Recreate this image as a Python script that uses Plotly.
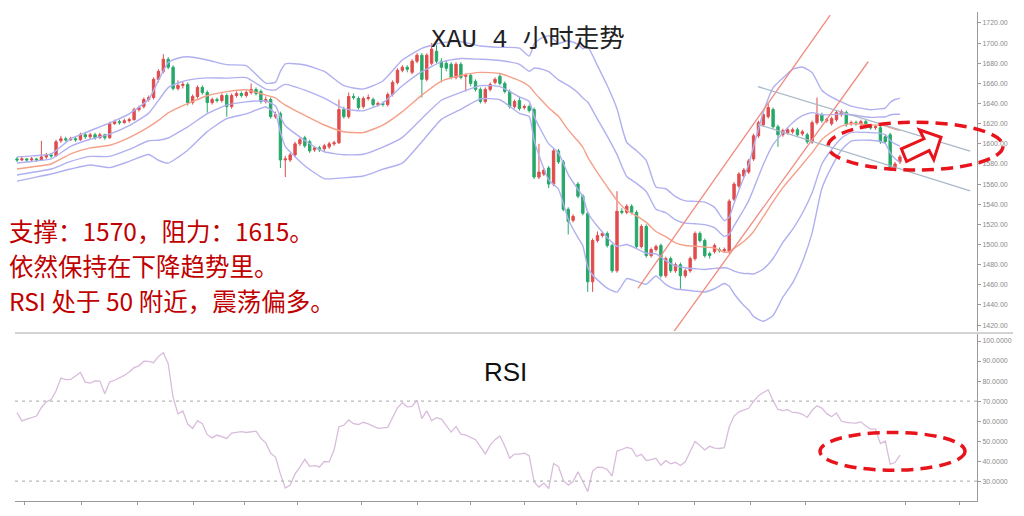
import plotly.graph_objects as go

# ---------------- data ----------------
opens = [1585,1584,1585,1584,1585,1584,1587,1589,1588,1603,1605,1604,1605,1604,1609,1607,1609,1606,1609,1606,
         1620,1622,1621,1623,1624,1634,1637,1644,1646,1664,1672,1684,1676,1655,1658,1659,1641,1647,1656,1651,
         1641,1644,1643,1648,1637,1648,1650,1648,1651,1654,1652,1642,1644,1627,1630,1584,1584,1589,1600,1606,
         1602,1594,1596,1595,1597,1600,1601,1634,1627,1647,1645,1637,1645,1644,1639,1640,1639,1649,1661,1673,
         1676,1671,1682,1688,1664,1680,1692,1682,1680,1679,1666,1679,1667,1668,1662,1654,1642,1654,1661,1667,
         1660,1652,1637,1643,1636,1637,1634,1567,1570,1576,1560,1593,1582,1535,1524,1560,1548,1531,1463,1504,
         1509,1511,1499,1474,1533,1532,1538,1532,1498,1518,1489,1495,1499,1469,1486,1474,1480,1469,1474,1486,
         1511,1504,1491,1493,1495,1494,1493,1545,1558,1568,1572,1585,1608,1619,1627,1634,1617,1609,1611,1612,
         1614,1610,1609,1602,1621,1629,1623,1620,1624,1629,1631,1620,1621,1620,1622,1617,1616,1616,1607,1609,
         1577,1582]
highs = [1587,1587,1586,1587,1586,1603,1591,1591,1604,1608,1607,1607,1607,1611,1612,1611,1611,1611,1610,1622,
         1624,1624,1625,1626,1636,1638,1646,1648,1666,1674,1689,1686,1678,1663,1662,1661,1649,1658,1658,1653,
         1646,1646,1650,1650,1650,1652,1652,1653,1660,1656,1654,1647,1646,1632,1632,1588,1591,1602,1606,1608,
         1604,1598,1598,1600,1602,1603,1644,1637,1651,1650,1647,1647,1649,1646,1642,1642,1651,1663,1675,1678,
         1678,1684,1690,1690,1690,1700,1698,1685,1683,1681,1681,1681,1670,1670,1664,1656,1656,1661,1666,1670,
         1662,1654,1644,1647,1639,1639,1636,1600,1576,1578,1595,1595,1584,1537,1530,1562,1550,1533,1506,1513,
         1513,1513,1501,1553,1536,1540,1540,1534,1520,1520,1497,1500,1501,1488,1488,1482,1482,1476,1488,1513,
         1513,1506,1493,1501,1497,1497,1545,1562,1572,1576,1585,1610,1623,1631,1640,1636,1619,1615,1616,1616,
         1616,1614,1611,1623,1646,1631,1626,1627,1633,1634,1633,1623,1623,1624,1624,1619,1619,1618,1609,1611,
         1582,1589]
lows = [1582,1583,1582,1583,1582,1583,1585,1586,1587,1601,1602,1603,1602,1603,1605,1605,1604,1605,1604,1605,
        1619,1619,1620,1621,1623,1632,1635,1642,1644,1661,1670,1674,1653,1653,1655,1638,1639,1645,1649,1631,
        1639,1641,1641,1627,1635,1646,1646,1646,1649,1648,1640,1640,1625,1625,1576,1567,1582,1587,1598,1596,
        1591,1592,1592,1593,1595,1598,1600,1625,1625,1644,1634,1635,1643,1637,1637,1637,1637,1647,1659,1671,
        1671,1669,1680,1646,1662,1678,1680,1661,1672,1664,1664,1664,1652,1657,1652,1640,1640,1652,1659,1658,
        1650,1635,1635,1633,1634,1631,1565,1565,1568,1556,1558,1580,1533,1510,1522,1546,1529,1453,1453,1502,
        1507,1497,1472,1472,1530,1530,1530,1496,1496,1487,1487,1493,1467,1467,1472,1472,1456,1467,1472,1484,
        1502,1487,1486,1491,1492,1492,1491,1543,1556,1566,1570,1583,1606,1617,1625,1615,1597,1607,1609,1610,
        1607,1608,1600,1600,1619,1621,1621,1618,1622,1627,1617,1618,1618,1618,1615,1614,1614,1600,1600,1573,
        1575,1580]
closes = [1584,1585,1584,1585,1584,1587,1589,1588,1602,1605,1604,1605,1604,1609,1607,1609,1606,1609,1606,1620,
          1622,1621,1623,1624,1634,1636,1644,1646,1664,1672,1684,1676,1655,1658,1659,1641,1647,1656,1651,1641,
          1644,1643,1648,1637,1648,1650,1648,1651,1654,1650,1642,1644,1627,1629,1584,1585,1589,1600,1604,1598,
          1593,1596,1594,1598,1600,1601,1634,1627,1647,1646,1636,1645,1646,1639,1640,1639,1649,1661,1673,1676,
          1674,1682,1688,1664,1688,1694,1682,1676,1675,1666,1679,1666,1668,1660,1654,1642,1654,1659,1664,1660,
          1652,1637,1642,1635,1637,1633,1567,1572,1574,1560,1593,1582,1535,1523,1528,1548,1531,1463,1504,1509,
          1511,1499,1474,1533,1532,1538,1532,1498,1518,1489,1495,1498,1469,1486,1474,1480,1469,1474,1486,1511,
          1504,1489,1489,1499,1494,1495,1543,1560,1570,1574,1583,1608,1621,1629,1636,1617,1609,1613,1614,1614,
          1609,1612,1602,1621,1629,1623,1624,1625,1631,1632,1619,1621,1620,1622,1617,1616,1617,1602,1602,1577,
          1580,1587]

rsi = [64.2,60.1,61.0,61.8,62.5,66.8,69.6,70.8,75.0,81.5,80.7,80.8,82.5,84.3,79.5,79.0,80.1,80.0,73.6,79.6,
       80.4,81.5,82.8,84.5,86.7,87.6,89.9,89.8,89.2,92.3,94.1,88.6,71.8,63.6,65.0,58.5,56.3,60.2,58.7,53.2,
       51.6,53.0,52.0,51.3,54.0,54.2,54.7,54.3,54.8,55.0,51.4,49.1,43.9,42.0,33.5,26.5,28.0,33.6,37.0,40.9,
       37.4,37.7,37.1,39.8,39.6,45.5,57.2,57.9,60.6,58.7,58.3,59.4,58.6,57.3,56.4,56.6,56.9,61.8,66.6,69.2,
       67.1,67.3,70.5,61.2,65.1,60.2,61.7,61.0,58.0,54.5,57.2,53.5,53.0,51.7,50.7,47.2,43.6,48.0,50.7,52.5,
       47.5,41.5,43.5,43.5,44.0,42.7,29.6,27.0,29.0,26.3,38.8,37.2,30.3,28.0,29.8,34.7,30.0,24.8,35.0,37.0,
       36.8,35.8,32.5,45.0,45.8,46.8,46.3,42.3,43.4,40.3,40.7,41.4,37.9,40.2,38.6,39.4,37.8,39.6,44.8,49.8,
       47.8,45.6,47.4,46.5,46.3,46.7,57.0,62.5,64.6,65.6,66.4,69.8,72.7,74.3,75.6,70.2,65.8,65.2,65.7,64.3,
       64.2,63.4,61.8,65.4,67.6,66.5,63.7,62.2,64.0,59.9,59.3,59.1,59.0,59.6,57.5,56.0,56.0,48.7,50.0,38.5,
       39.3,43.0]

# Bollinger lines (outer = 2 sd, inner = 1 sd) sampled at these candle indices
band_idx = [0,3,7,11,15,19,23,27,29,31,33,35,39,43,47,51,53,54,55,59,63,67,71,75,79,83,87,91,95,99,
            103,105,106,107,109,111,113,115,116,117,118,119,121,123,125,127,129,131,133,135,137,139,141,143,
            145,146,147,149,150,151,153,155,157,159,161,163,165,167,169,171,175,177,178,179,180,181]
band_up2 = [1587.0,1588.0,1590.0,1605.0,1613.0,1620.8,1629.8,1644.2,1662.9,1680.8,1685.0,1686.4,1683.3,1678.6,1677.7,
            1660.2,1661.3,1672.0,1679.5,1678.3,1671.9,1657.8,1654.4,1662.4,1683.2,1694.8,1700.3,1701.5,1697.1,1695.8,
            1695.1,1687.1,1698.9,1703.5,1707.4,1699.7,1702.4,1698.8,1694.4,1696.2,1687.8,1677.7,1657.9,1634.8,1601.4,
            1593.2,1583.4,1557.1,1555.4,1547.5,1543.3,1542.9,1542.1,1536.9,1523.7,1527.2,1541.1,1566.6,1579.8,1597.3,
            1631.4,1655.6,1665.3,1674.0,1676.3,1670.8,1653.2,1646.3,1641.6,1637.5,1633.9,1634.7,1635.5,1641.1,1644.0,1645.2]
band_up1 = [1581.0,1582.5,1585.0,1597.5,1604.5,1609.7,1618.0,1630.5,1643.1,1655.8,1660.4,1663.2,1665.5,1665.2,1665.7,
            1654.3,1653.4,1656.9,1659.0,1653.3,1645.3,1634.9,1632.8,1640.5,1657.6,1671.6,1681.3,1684.7,1684.0,1682.8,
            1678.9,1672.1,1675.1,1674.8,1671.6,1663.5,1658.1,1650.8,1645.5,1641.5,1633.3,1624.5,1607.6,1589.3,1567.6,
            1560.8,1552.7,1535.0,1531.6,1524.6,1521.2,1520.6,1519.8,1516.7,1508.1,1510.1,1518.6,1534.8,1543.6,1555.1,
            1579.5,1599.1,1610.9,1621.0,1627.9,1631.0,1628.8,1629.0,1629.6,1628.8,1626.3,1626.6,1626.7,1628.6,1629.3,1629.3]
band_mid = [1575.0,1577.0,1580.0,1590.0,1596.0,1598.6,1606.2,1616.8,1623.3,1630.8,1635.8,1640.0,1647.7,1651.8,1653.7,
            1648.4,1645.5,1641.8,1638.5,1628.3,1618.7,1612.0,1611.2,1618.6,1632.0,1648.4,1662.3,1667.9,1670.9,1669.8,
            1662.7,1657.1,1651.3,1646.1,1635.8,1627.3,1613.8,1602.8,1596.6,1586.8,1578.8,1571.3,1557.3,1543.8,1533.8,
            1528.4,1522.0,1512.9,1507.8,1501.7,1499.1,1498.3,1497.5,1496.5,1492.5,1493.0,1496.1,1503.0,1507.4,1512.9,
            1527.6,1542.6,1556.5,1568.0,1579.5,1591.2,1604.4,1611.7,1617.6,1620.1,1618.7,1618.5,1617.9,1616.1,1614.6,1613.4]
band_lo1 = [1569.0,1571.5,1575.0,1582.5,1587.5,1587.5,1594.4,1603.1,1603.5,1605.8,1611.2,1616.8,1629.9,1638.4,1641.7,
            1642.5,1637.6,1626.7,1618.0,1603.3,1592.1,1589.1,1589.6,1596.7,1606.4,1625.2,1643.3,1651.1,1657.8,1656.8,
            1646.5,1642.1,1627.5,1617.4,1600.0,1591.1,1569.5,1554.8,1547.7,1532.1,1524.3,1518.1,1507.0,1498.3,1500.0,
            1496.0,1491.3,1490.8,1484.0,1478.8,1477.0,1476.0,1475.2,1476.3,1476.9,1475.9,1473.6,1471.2,1471.2,1470.7,
            1475.7,1486.1,1502.1,1515.0,1531.1,1551.4,1580.0,1594.4,1605.6,1611.4,1611.1,1610.4,1609.1,1603.6,1599.9,1597.5]
band_lo2 = [1563.0,1566.0,1570.0,1575.0,1579.0,1576.4,1582.6,1589.4,1583.7,1580.8,1586.6,1593.6,1612.1,1625.0,1629.7,
            1636.6,1629.7,1611.6,1597.5,1578.3,1565.5,1566.2,1568.0,1574.8,1580.8,1602.0,1624.3,1634.3,1644.7,1643.8,
            1630.3,1627.1,1603.7,1588.7,1564.2,1554.9,1525.2,1506.8,1498.8,1477.4,1469.8,1464.9,1456.7,1452.8,1466.2,
            1463.6,1460.6,1468.7,1460.2,1455.9,1454.9,1453.7,1452.9,1456.1,1461.3,1458.8,1451.1,1439.4,1435.0,1428.5,
            1423.8,1429.6,1447.7,1462.0,1482.7,1511.6,1555.6,1577.1,1593.6,1602.7,1603.5,1602.3,1600.3,1591.1,1585.2,1581.6]

# analyst trend lines (candle index, price)
up_chan_a = ([127.3, 166.7], [1456.5, 1727.9])
up_chan_b = ([134.3, 174.5], [1411.1, 1681.5])
down_chan_top = ([151.9, 195.4], [1656.8, 1592.7])
down_chan_bot = ([151.9, 195.4], [1619.3, 1553.2])

price_ticks = [1420, 1440, 1460, 1480, 1500, 1520, 1540, 1560, 1580, 1600, 1620, 1640, 1660, 1680, 1700, 1720]
rsi_ticks = [30, 40, 50, 60, 70, 80, 90, 100]
rsi_levels = [70, 30]
day_ticks = [1.6, 13.3, 24.8, 36.1, 46.7, 57.4, 70.7, 82.0, 92.9, 104.1, 114.8, 127.5, 138.8, 150.3, 161.6, 182.1, 193.3]

title_text = "XAU 4 小时走势"
notes = ["支撑：1570，阻力：1615。", "依然保持在下降趋势里。", "RSI 处于 50 附近，震荡偏多。"]
note_rows = [232, 267, 302]

# ---------------- layout helpers ----------------
W, H = 1024, 516
PL, PR, PT, PB = 15, 977, 12, 504


def px(x):
    return (x - PL) / (PR - PL)


def py(y):
    return (PB - y) / (PB - PT)


idx = list(range(len(closes)))

RED = "#e04c4c"
GREEN = "#27a86a"
BAND = "#b0b0f0"
MID = "#f5a088"
CHAN = "#f08a80"
GRAY_CHAN = "#a9b8c8"

fig = go.Figure()

for vals, col in [(band_up2, BAND), (band_up1, BAND), (band_lo1, BAND), (band_lo2, BAND), (band_mid, MID)]:
    fig.add_trace(go.Scatter(x=band_idx, y=vals, mode="lines",
                             line=dict(color=col, width=1.4, shape="spline", smoothing=0.5),
                             xaxis="x", yaxis="y", showlegend=False, hoverinfo="skip"))

fig.add_trace(go.Candlestick(
    x=idx, open=opens, high=highs, low=lows, close=closes,
    increasing=dict(line=dict(color=RED, width=1), fillcolor=RED),
    decreasing=dict(line=dict(color=GREEN, width=1), fillcolor=GREEN),
    whiskerwidth=0, xaxis="x", yaxis="y", showlegend=False,
))
for (xs, ys), col in [(up_chan_a, CHAN), (up_chan_b, CHAN), (down_chan_top, GRAY_CHAN), (down_chan_bot, GRAY_CHAN)]:
    fig.add_trace(go.Scatter(x=xs, y=ys, mode="lines", line=dict(color=col, width=1.3),
                             xaxis="x", yaxis="y", showlegend=False, hoverinfo="skip"))

fig.add_trace(go.Scatter(x=idx, y=rsi, mode="lines", line=dict(color="#d9bcdc", width=1.3),
                         xaxis="x2", yaxis="y2", showlegend=False, hoverinfo="skip"))

x_range = [(PL - 17) / 4.878, (PR - 17) / 4.878]
main_dom = [py(333), 1]
rsi_dom = [0, py(336)]

axis_common = dict(showgrid=False, zeroline=False)
tickfont = dict(size=7, color="#8a8a8a", family="Liberation Sans")
fig.update_layout(
    width=W, height=H,
    margin=dict(l=PL, r=W - PR, t=PT, b=H - PB),
    paper_bgcolor="white", plot_bgcolor="white",
    showlegend=False,
    xaxis=dict(domain=[0, 1], range=x_range, anchor="y", showticklabels=False, showline=False,
               rangeslider=dict(visible=False), **axis_common),
    xaxis2=dict(domain=[0, 1], range=x_range, anchor="y2", matches="x", showticklabels=False,
                showline=True, linecolor="#9a9a9a", linewidth=1, ticks="outside", ticklen=3,
                tickcolor="#9a9a9a", tickvals=day_ticks, **axis_common),
    yaxis=dict(domain=main_dom, range=[1414.1, 1730.9], side="right", anchor="x", tickvals=price_ticks,
               tickformat=".2f", tickfont=tickfont,
               showline=True, linecolor="#9a9a9a", linewidth=1, ticks="outside", ticklen=3,
               tickcolor="#9a9a9a", **axis_common),
    yaxis2=dict(domain=rsi_dom, range=[20.06, 103.5], side="right", anchor="x2", tickvals=rsi_ticks,
                tickformat=".4f", tickfont=tickfont,
                showline=True, linecolor="#9a9a9a", linewidth=1, ticks="outside", ticklen=3,
                tickcolor="#9a9a9a", **axis_common),
)

shapes = []
shapes.append(dict(type="line", xref="paper", yref="paper", x0=px(15), x1=px(1013), y0=py(335), y1=py(335),
                   line=dict(color="#a8a8a8", width=1)))
for lv in rsi_levels:
    shapes.append(dict(type="line", xref="paper", yref="y2", x0=0, x1=1, y0=lv, y1=lv,
                       line=dict(color="#b8b8b8", width=1.2, dash="3px,4px")))
shapes.append(dict(type="circle", xref="paper", yref="paper", x0=px(828), x1=px(1003), y0=py(171), y1=py(123),
                   line=dict(color="#e8141c", width=3.5, dash="12px,7px")))
shapes.append(dict(type="circle", xref="paper", yref="paper", x0=px(820), x1=px(965), y0=py(473), y1=py(435),
                   line=dict(color="#e8141c", width=3.5, dash="12px,7px")))
arrow_px = [(906.6, 162.4), (929.2, 151.4), (933.8, 160.5), (941, 138), (919.5, 130.5), (924, 139.6), (901.4, 149.6)]
path = "M " + " L ".join(f"{px(a):.5f},{py(b):.5f}" for a, b in arrow_px) + " Z"
shapes.append(dict(type="path", xref="paper", yref="paper", path=path, fillcolor="white",
                   line=dict(color="#e8141c", width=3)))
fig.update_layout(shapes=shapes)

annotations = [
    dict(text=title_text, xref="paper", yref="paper", x=px(528), y=py(40), showarrow=False,
         font=dict(family="Liberation Mono, Noto Sans CJK SC", size=25.5, color="#222222"),
         xanchor="center", yanchor="middle"),
    dict(text="RSI", xref="paper", yref="paper", x=px(505), y=py(374), showarrow=False,
         font=dict(family="Liberation Sans, Arial", size=26, color="#111111"), xanchor="center", yanchor="middle"),
]
for t, yc in zip(notes, note_rows):
    annotations.append(dict(text=t, xref="paper", yref="paper", x=px(8), y=py(yc), showarrow=False,
                            font=dict(family="Noto Sans CJK SC", size=24.5, color="#c00000"),
                            borderpad=0, xanchor="left", yanchor="middle"))
fig.update_layout(annotations=annotations)

fig.write_html("out.html", config={"displayModeBar": False},
               post_script="document.body.style.margin='0';document.body.style.overflow='hidden';")
